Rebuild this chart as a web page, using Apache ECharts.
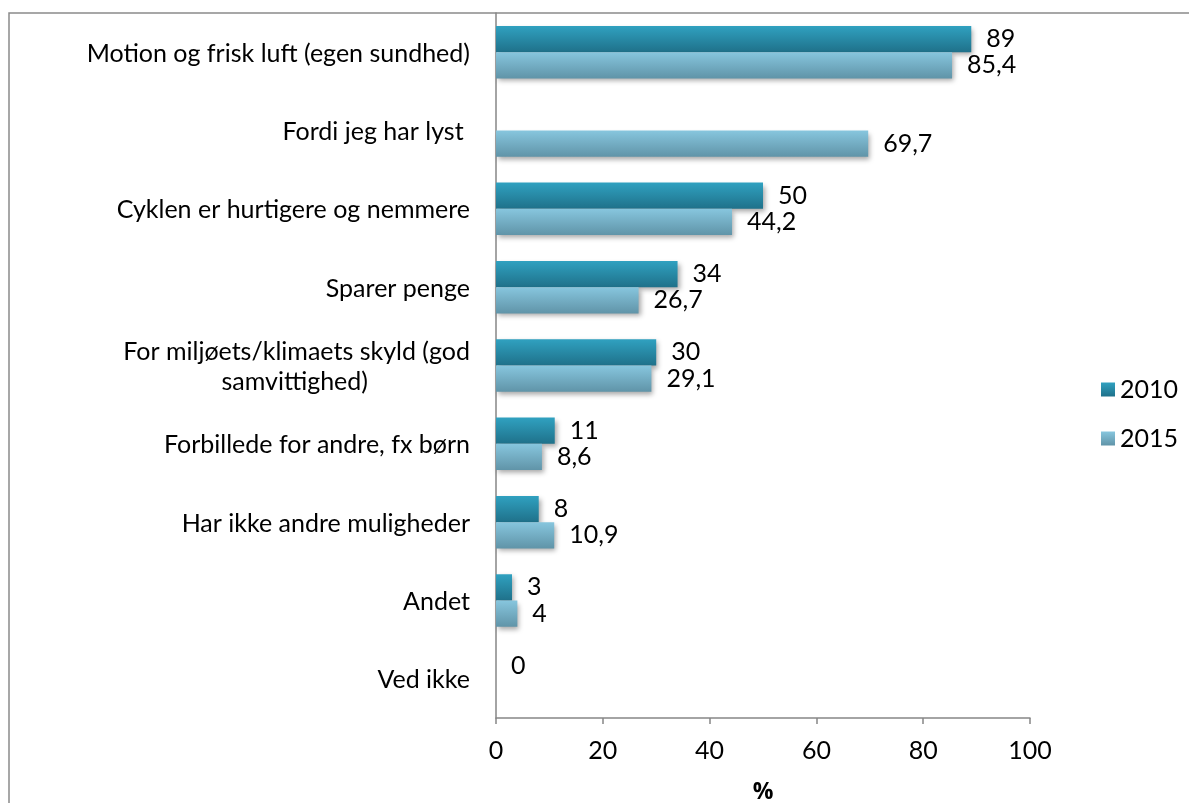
<!DOCTYPE html>
<html>
<head>
<meta charset="utf-8">
<title>Hvorfor cykler du</title>
<script src="https://cdn.jsdelivr.net/npm/echarts@6/dist/echarts.min.js"></script>
<style>
    html, body { margin: 0; padding: 0; background: #fff; }
    #main { width: 1189px; height: 803px; }
</style>
</head>
<body>
<div id="main"></div>
<script>
// kategorier (oppefra og ned)
var categories = [
    'Motion og frisk luft (egen sundhed)',
    'Fordi jeg har lyst ',
    'Cyklen er hurtigere og nemmere',
    'Sparer penge',
    'For miljøets/klimaets skyld (god\nsamvittighed)',
    'Forbillede for andre, fx børn',
    'Har ikke andre muligheder',
    'Andet',
    'Ved ikke'
];
var years = ['2010', '2015'];
var values2010 = [89, null, 50, 34, 30, 11, 8, 3, 0];
var values2015 = [85.4, 69.7, 44.2, 26.7, 29.1, 8.6, 10.9, 4, null];
var xTicks = [0, 20, 40, 60, 80, 100];

var font = 'Lato';
var fs = 25;

function grad(top, bottom) {
    return new echarts.graphic.LinearGradient(0, 0, 0, 1, [
        {offset: 0, color: top},
        {offset: 1, color: bottom}
    ]);
}

function makeSeries(name, data, top, bottom) {
    return {
        name: name,
        type: 'bar',
        data: data,
        barGap: '0%',
        barCategoryGap: '33%',
        itemStyle: {
            color: grad(top, bottom),
            shadowColor: 'rgba(0,0,0,0.35)',
            shadowBlur: 5,
            shadowOffsetX: 2,
            shadowOffsetY: 3
        },
        label: {
            show: true,
            position: 'right',
            distance: 15,
            padding: [3, 0, 0, 0],
            color: '#000',
            fontFamily: font,
            fontSize: fs,
            formatter: function (p) {
                return String(p.value).replace('.', ',');
            }
        }
    };
}

var chart = echarts.init(document.getElementById('main'));

var option = {
    animation: false,
    // outerBoundsMode none: ellers krymper v6 plotområdet
    grid: {left: 496, right: 159, top: 13, bottom: 85, outerBoundsMode: 'none'},
    // ramme rundt om diagrammet (kun top og venstre synlig)
    graphic: [{
        type: 'rect',
        shape: {x: 9, y: 13, width: 1400, height: 1000},
        style: {fill: 'none', stroke: '#8a8a8a', lineWidth: 1.5},
        z: -1
    }],
    legend: {
        orient: 'vertical',
        left: 1096,
        top: 372,
        itemGap: 24,
        itemWidth: 14,
        itemHeight: 14,
        icon: 'rect',
        textStyle: {fontFamily: font, fontSize: fs, color: '#000'},
        data: years
    },
    xAxis: {
        type: 'value',
        min: 0,
        max: 100,
        interval: 20,
        name: '%',
        nameLocation: 'middle',
        nameGap: 63,
        nameTextStyle: {fontFamily: 'Open Sans', fontSize: 23, fontWeight: 'bold', color: '#000'},
        axisLine: {show: true, lineStyle: {color: '#868686', width: 1.5}},
        axisTick: {show: true, length: 6, lineStyle: {color: '#868686', width: 1.5}},
        splitLine: {show: false},
        axisLabel: {
            margin: 20,
            fontFamily: font,
            fontSize: fs,
            color: '#000',
            customValues: xTicks
        }
    },
    yAxis: {
        type: 'category',
        inverse: true,
        data: categories,
        axisLine: {lineStyle: {color: '#868686', width: 1.5}},
        axisTick: {length: 7, lineStyle: {color: '#868686', width: 1.5}},
        axisLabel: {
            margin: 26,
            padding: [3, 0, 0, 0],
            fontFamily: font,
            fontSize: fs,
            color: '#000',
            lineHeight: 30,
            formatter: function (v) {
                if (v.indexOf('\n') < 0) {
                    return v;
                }
                var lines = v.split('\n');
                return '{a|' + lines[0] + '}\n{b|' + lines[1] + '}';
            },
            rich: {
                a: {fontFamily: font, fontSize: fs, color: '#000', lineHeight: 30},
                b: {fontFamily: font, fontSize: fs, color: '#000', lineHeight: 30, padding: [0, 102, 0, 0]}
            }
        }
    },
    series: [
        makeSeries(years[0], values2010, '#30a1c0', '#1f718a'),
        makeSeries(years[1], values2015, '#87c6de', '#6094a8')
    ]
};

chart.setOption(option);
</script>
</body>
</html>
